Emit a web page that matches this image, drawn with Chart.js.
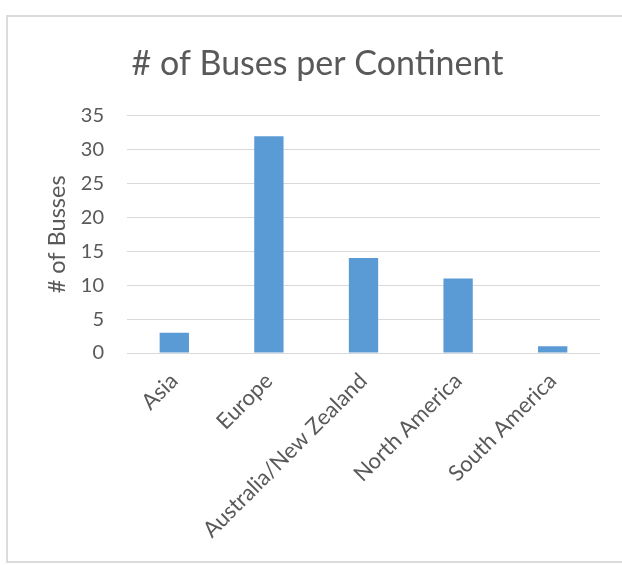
<!DOCTYPE html>
<html>
<head>
<meta charset="utf-8">
<script src="https://cdn.jsdelivr.net/npm/chart.js@4.4.1/dist/chart.umd.min.js"></script>
<style>
  html, body { margin: 0; padding: 0; background: #fff; overflow: hidden; }
  #frame {
    position: absolute; left: 6px; top: 15px;
    width: 640px; height: 544px;
    border: 2px solid #dcdcdc;
  }
</style>
</head>
<body>
<div id="frame"><canvas id="busChart" width="606" height="544"></canvas></div>
<script>
const continents = ['Asia', 'Europe', 'Australia/New Zealand', 'North America', 'South America'];
const busCounts = [3, 32, 14, 11, 1];
const yTicks = [0, 5, 10, 15, 20, 25, 30, 35];

const textGray = '#595959';
const gridGray = '#d9d9d9';

const ctx = document.getElementById('busChart').getContext('2d');
new Chart(ctx, {
    type: 'bar',
    data: {
        labels: continents,
        datasets: [{
            label: '# of Busses',
            data: busCounts,
            backgroundColor: '#5b9bd5',
            borderWidth: 0,
            categoryPercentage: 1,
            barPercentage: 0.31
        }]
    },
    options: {
        responsive: false,
        animation: false,
        layout: { padding: { left: 27, right: 14, top: 0, bottom: 0 } },
        scales: {
            y: {
                min: yTicks[0],
                max: yTicks[yTicks.length - 1],
                afterBuildTicks: axis => { axis.ticks = yTicks.map(v => ({ value: v })); },
                afterFit: axis => { axis.width = 92; },
                grid: { color: gridGray, drawTicks: false },
                border: { display: false },
                ticks: { color: textGray, padding: 23, font: { family: 'Lato', size: 20 } },
                title: {
                    display: true,
                    text: '# of Busses',
                    color: textGray,
                    padding: { top: 8, bottom: 0 },
                    font: { family: 'Lato', size: 23.5 }
                }
            },
            x: {
                afterFit: axis => { axis.height = 208; },
                grid: { display: false, drawTicks: false },
                border: { display: false },
                ticks: {
                    color: textGray,
                    padding: 15,
                    autoSkip: false,
                    minRotation: 45,
                    maxRotation: 45,
                    font: { family: 'Lato', size: 22 }
                }
            }
        },
        plugins: {
            legend: { display: false },
            tooltip: { enabled: false },
            title: {
                display: true,
                text: '# of Buses per Continent',
                color: textGray,
                padding: { top: 27, bottom: 31 },
                font: { family: 'Lato', size: 34, weight: 'normal' }
            }
        }
    }
});
</script>
</body>
</html>
